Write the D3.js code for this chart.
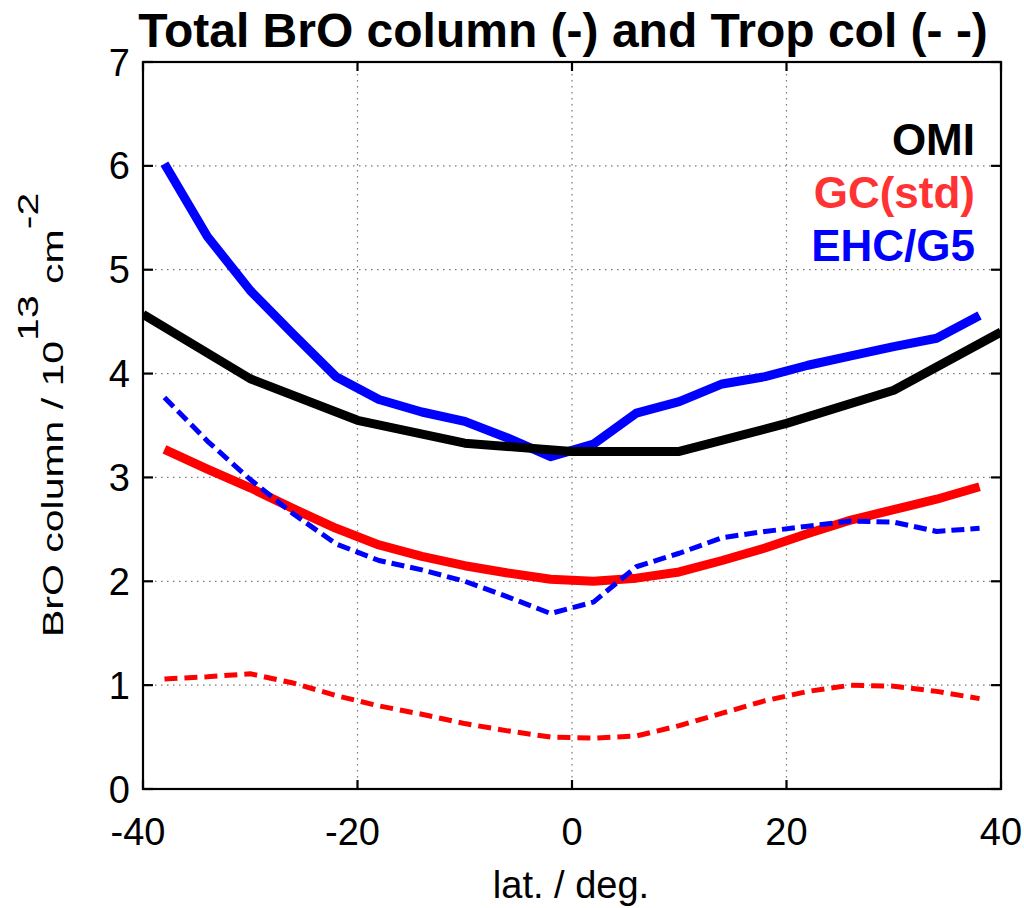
<!DOCTYPE html>
<html>
<head>
<meta charset="utf-8">
<script src="https://cdn.jsdelivr.net/npm/d3@7"></script>
<style>
  html, body { margin: 0; padding: 0; background: #fff; }
  svg { display: block; font-family: "Liberation Sans", Arial, Helvetica, sans-serif; }
</style>
</head>
<body>
<svg id="chart" width="1024" height="908"></svg>
<script>
// Latitude bins (deg) for the model curves
const lat = [-38, -34, -30, -26, -22, -18, -14, -10, -6, -2, 2, 6, 10, 14, 18, 22, 26, 30, 34, 38];

// Total BrO column (1e13 molec cm^-2)
const ehcTotal = [6.02, 5.32, 4.80, 4.38, 3.97, 3.75, 3.63, 3.54, 3.38, 3.20, 3.32, 3.62, 3.73, 3.90, 3.97, 4.08, 4.17, 4.26, 4.34, 4.56];
const gcTotal  = [3.27, 3.08, 2.90, 2.70, 2.51, 2.35, 2.24, 2.15, 2.08, 2.02, 2.00, 2.03, 2.09, 2.20, 2.32, 2.46, 2.59, 2.69, 2.79, 2.91];

// Tropospheric BrO column (1e13 molec cm^-2)
const ehcTrop = [3.77, 3.35, 2.98, 2.65, 2.36, 2.20, 2.11, 2.00, 1.85, 1.69, 1.80, 2.14, 2.27, 2.42, 2.48, 2.53, 2.58, 2.57, 2.48, 2.51];
const gcTrop  = [1.06, 1.08, 1.11, 1.02, 0.90, 0.80, 0.72, 0.63, 0.56, 0.50, 0.49, 0.51, 0.61, 0.73, 0.85, 0.94, 1.00, 0.99, 0.94, 0.87];

// OMI total column, 10-degree bins
const omiLat   = [-40, -30, -20, -10, 0, 10, 20, 30, 40];
const omiTotal = [4.57, 3.95, 3.55, 3.33, 3.25, 3.25, 3.52, 3.84, 4.40];

// Axis ticks
const xTicks = [-40, -20, 0, 20, 40];
const yTicks = [0, 1, 2, 3, 4, 5, 6, 7];

const legendNames  = ["OMI", "GC(std)", "EHC/G5"];
const legendColors = ["#000000", "#ff3333", "#0000ff"];

const titleText = "Total BrO column (-) and Trop col (- -)";

const svg = d3.select("#chart");
const plotL = 143, plotR = 1001, plotT = 62, plotB = 789;

const x = d3.scaleLinear().domain([-40, 40]).range([plotL, plotR]);
const y = d3.scaleLinear().domain([0, 7]).range([plotB, plotT]);

// Dotted grid
const grid = svg.append("g");
grid.selectAll("line.gx").data(xTicks.filter(d => d > -40 && d < 40)).join("line")
  .attr("x1", d => x(d)).attr("x2", d => x(d))
  .attr("y1", plotT).attr("y2", plotB)
  .attr("stroke", "#777").attr("stroke-width", 1.2).attr("stroke-dasharray", "1.5,4.5");
grid.selectAll("line.gy").data(yTicks.filter(d => d > 0 && d < 7)).join("line")
  .attr("x1", plotL).attr("x2", plotR)
  .attr("y1", d => y(d)).attr("y2", d => y(d))
  .attr("stroke", "#777").attr("stroke-width", 1.2).attr("stroke-dasharray", "1.5,4.5");

// Clip region for the curves
svg.append("clipPath").attr("id", "plotclip").append("rect")
  .attr("x", plotL).attr("y", plotT).attr("width", plotR - plotL).attr("height", plotB - plotT);

const line = (xs, ys) => d3.line().x((d, i) => x(xs[i])).y((d, i) => y(ys[i]))(ys);

const curves = svg.append("g").attr("clip-path", "url(#plotclip)");
const series = [
  { xs: lat,    ys: ehcTotal, color: "#0000ff", w: 9, dash: null },
  { xs: lat,    ys: gcTotal,  color: "#ff0000", w: 9, dash: null },
  { xs: omiLat, ys: omiTotal, color: "#000000", w: 9, dash: null },
  { xs: lat,    ys: gcTrop,   color: "#ff0000", w: 5, dash: "13,7" },
  { xs: lat,    ys: ehcTrop,  color: "#0000ff", w: 5, dash: "13,6" }
];
curves.selectAll("path").data(series).join("path")
  .attr("d", s => line(s.xs, s.ys))
  .attr("fill", "none")
  .attr("stroke", s => s.color)
  .attr("stroke-width", s => s.w)
  .attr("stroke-linejoin", "round")
  .attr("stroke-dasharray", s => s.dash);

// Axes: frame with inward ticks on all four sides
const axes = svg.append("g").attr("stroke", "#000").attr("stroke-width", 2.2);
axes.append("rect").attr("x", plotL).attr("y", plotT)
  .attr("width", plotR - plotL).attr("height", plotB - plotT).attr("fill", "none");
axes.append("g").selectAll("line").data(yTicks).join("line")
  .attr("x1", plotL).attr("x2", plotL + 10).attr("y1", d => y(d)).attr("y2", d => y(d));
axes.append("g").selectAll("line").data(yTicks).join("line")
  .attr("x1", plotR).attr("x2", plotR - 10).attr("y1", d => y(d)).attr("y2", d => y(d));
axes.append("g").selectAll("line").data(xTicks).join("line")
  .attr("x1", d => x(d)).attr("x2", d => x(d)).attr("y1", plotB).attr("y2", plotB - 9);
axes.append("g").selectAll("line").data(xTicks).join("line")
  .attr("x1", d => x(d)).attr("x2", d => x(d)).attr("y1", plotT).attr("y2", plotT + 9);

// Tick labels
svg.append("g").selectAll("text").data(yTicks).join("text")
  .attr("x", 130).attr("y", d => y(d) + 13.5)
  .attr("text-anchor", "end").attr("font-size", 38).attr("fill", "#000")
  .text(d => d);
svg.append("g").selectAll("text").data(xTicks).join("text")
  .attr("x", d => x(d) + (d < 0 ? -5 : 0)).attr("y", 845)
  .attr("text-anchor", "middle").attr("font-size", 38).attr("fill", "#000")
  .text(d => d);

// Title
svg.append("text").attr("x", 563).attr("y", 47)
  .attr("text-anchor", "middle").attr("font-size", 48).attr("font-weight", "bold")
  .text(titleText);

// Axis titles
svg.append("text").attr("x", 571).attr("y", 898)
  .attr("text-anchor", "middle").attr("font-size", 38)
  .text("lat. / deg.");

const yl = svg.append("text")
  .attr("transform", "translate(63,637) rotate(-90) scale(1,0.7)")
  .attr("font-size", 41).attr("text-anchor", "start");
yl.append("tspan").text("BrO column / 10");
yl.append("tspan").attr("dy", -36).text("13");
yl.append("tspan").attr("dy", 36).text(" cm");
yl.append("tspan").attr("dy", -36).text("-2");

// Legend
svg.append("g").selectAll("text").data(legendNames).join("text")
  .attr("x", 975).attr("y", (d, i) => 155 + i * 53)
  .attr("text-anchor", "end").attr("font-size", 44).attr("font-weight", "bold")
  .attr("fill", (d, i) => legendColors[i])
  .text(d => d);
</script>
</body>
</html>
